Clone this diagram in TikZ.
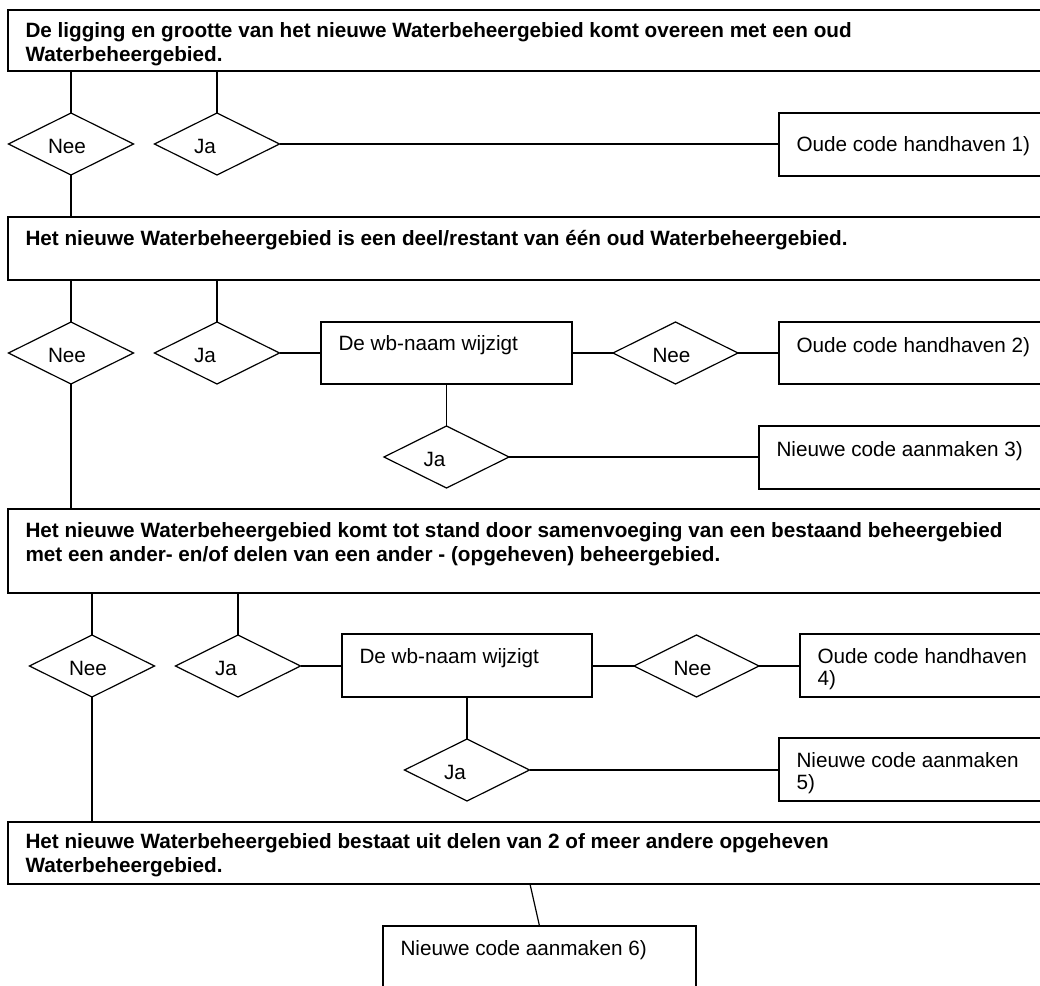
\documentclass[tikz,border=0pt]{standalone}
\usepackage{fontspec}
\setmainfont{Liberation Sans}
\usetikzlibrary{shapes.geometric,calc}
\begin{document}
\begin{tikzpicture}[x=1pt,y=-1pt,
  every node/.style={inner sep=0pt, outer sep=0pt},
  frame/.style={draw=black, line width=1.2pt, rectangle, anchor=north west},
  dia/.style={draw=black, line width=1.2pt, diamond, minimum width=125pt, minimum height=62pt},
  lbl/.style={anchor=base west, font=\fontsize{20.7}{22}\selectfont},
  blbl/.style={anchor=base west, font=\fontsize{20.7}{24}\selectfont\bfseries},
  conn/.style={draw=black, line width=1.2pt}]
\useasboundingbox (0,0) rectangle (1040,985);
\clip (0,0) rectangle (1040,985);

% ---------- big question boxes
\node[frame, minimum width=1060pt, minimum height=61pt] (b1) at (8,10) {};
\node[frame, minimum width=1060pt, minimum height=63pt] (b2) at (8,217) {};
\node[frame, minimum width=1060pt, minimum height=84pt] (b3) at (8,509) {};
\node[frame, minimum width=1060pt, minimum height=62pt] (b4) at (8,822) {};

\node[blbl] (b1t) at ($(b1.north west)+(17.5,27)$) {\begin{tabular}[t]{@{}l@{}}De ligging en grootte van het nieuwe Waterbeheergebied komt overeen met een oud\\Waterbeheergebied.\end{tabular}};
\node[blbl] (b2t) at ($(b2.north west)+(17.5,28)$) {Het nieuwe Waterbeheergebied is een deel/restant van één oud Waterbeheergebied.};
\node[blbl] (b3t) at ($(b3.north west)+(17.5,28)$) {\begin{tabular}[t]{@{}l@{}}Het nieuwe Waterbeheergebied komt tot stand door samenvoeging van een bestaand beheergebied\\met een ander- en/of delen van een ander - (opgeheven) beheergebied.\end{tabular}};
\node[blbl] (b4t) at ($(b4.north west)+(17.5,26)$) {\begin{tabular}[t]{@{}l@{}}Het nieuwe Waterbeheergebied bestaat uit delen van 2 of meer andere opgeheven\\Waterbeheergebied.\end{tabular}};

% ---------- small boxes
\node[frame, minimum width=300pt, minimum height=63pt] (r1) at (779,113) {};
\node[frame, minimum width=251pt, minimum height=62pt] (w1) at (321,322) {};
\node[frame, minimum width=300pt, minimum height=62pt] (r2) at (779,322) {};
\node[frame, minimum width=320pt, minimum height=63pt] (r3) at (759,426) {};
\node[frame, minimum width=250pt, minimum height=63pt] (w2) at (342,634) {};
\node[frame, minimum width=300pt, minimum height=63pt] (r4) at (800,634) {};
\node[frame, minimum width=300pt, minimum height=63pt] (r5) at (779,738) {};
\node[frame, minimum width=313pt, minimum height=80pt] (r6) at (383,926) {};

\node[lbl] (r1t) at ($(r1.north west)+(17.5,38.5)$) {Oude code handhaven 1)};
\node[lbl] (w1t) at ($(w1.north west)+(17.5,28)$) {De wb-naam wijzigt};
\node[lbl] (r2t) at ($(r2.north west)+(17.5,30)$) {Oude code handhaven 2)};
\node[lbl] (r3t) at ($(r3.north west)+(17.5,30)$) {Nieuwe code aanmaken 3)};
\node[lbl] (w2t) at ($(w2.north west)+(17.5,29)$) {De wb-naam wijzigt};
\node[lbl] (r4t) at ($(r4.north west)+(17.5,29)$) {\begin{tabular}[t]{@{}l@{}}Oude code handhaven\\4)\end{tabular}};
\node[lbl] (r5t) at ($(r5.north west)+(17.5,29)$) {\begin{tabular}[t]{@{}l@{}}Nieuwe code aanmaken\\5)\end{tabular}};
\node[lbl] (r6t) at ($(r6.north west)+(17.5,29)$) {Nieuwe code aanmaken 6)};

% ---------- diamonds
\node[dia] (n1) at (71,144) {};
\node[dia] (j1) at (217,144) {};
\node[dia] (n2) at (71,353) {};
\node[dia] (j2) at (217,353) {};
\node[dia] (n2b) at (675.5,353) {};
\node[dia] (j2b) at (446.5,457) {};
\node[dia] (n3) at (92,666) {};
\node[dia] (j3) at (238,666) {};
\node[dia] (n3b) at (696.5,666) {};
\node[dia] (j3b) at (467,770) {};

\foreach \d/\t in {n1/Nee, j1/Ja, n2/Nee, j2/Ja, n2b/Nee, j2b/Ja, n3/Nee, j3/Ja, n3b/Nee, j3b/Ja}
  \node[lbl] (\d t) at ($(\d.west)+(39.5,9.5)$) {\t};

% ---------- connectors
% level 1
\draw[conn] (n1.north) -- (n1.north |- b1.south);
\draw[conn] (j1.north) -- (j1.north |- b1.south);
\draw[conn] (j1.east) -- (r1.west |- j1.east);
\draw[conn] (n1.south) -- (n1.south |- b2.north);
% level 2
\draw[conn] (n2.north) -- (n2.north |- b2.south);
\draw[conn] (j2.north) -- (j2.north |- b2.south);
\draw[conn] (j2.east) -- (w1.west |- j2.east);
\draw[conn] (w1.east |- n2b.west) -- (n2b.west);
\draw[conn] (n2b.east) -- (r2.west |- n2b.east);
\draw[conn] (j2b.north) -- (j2b.north |- w1.south);
\draw[conn] (j2b.east) -- (r3.west |- j2b.east);
\draw[conn] (n2.south) -- (n2.south |- b3.north);
% level 3
\draw[conn] (n3.north) -- (n3.north |- b3.south);
\draw[conn] (j3.north) -- (j3.north |- b3.south);
\draw[conn] (j3.east) -- (w2.west |- j3.east);
\draw[conn] (w2.east |- n3b.west) -- (n3b.west);
\draw[conn] (n3b.east) -- (r4.west |- n3b.east);
\draw[conn] (j3b.north) -- (j3b.north |- w2.south);
\draw[conn] (j3b.east) -- (r5.west |- j3b.east);
\draw[conn] (n3.south) -- (n3.south |- b4.north);
% level 4
\coordinate (b4s) at ($(b4.south west)+(522,0)$);
\draw[conn] (b4s) -- (r6.north);
\end{tikzpicture}
\end{document}
